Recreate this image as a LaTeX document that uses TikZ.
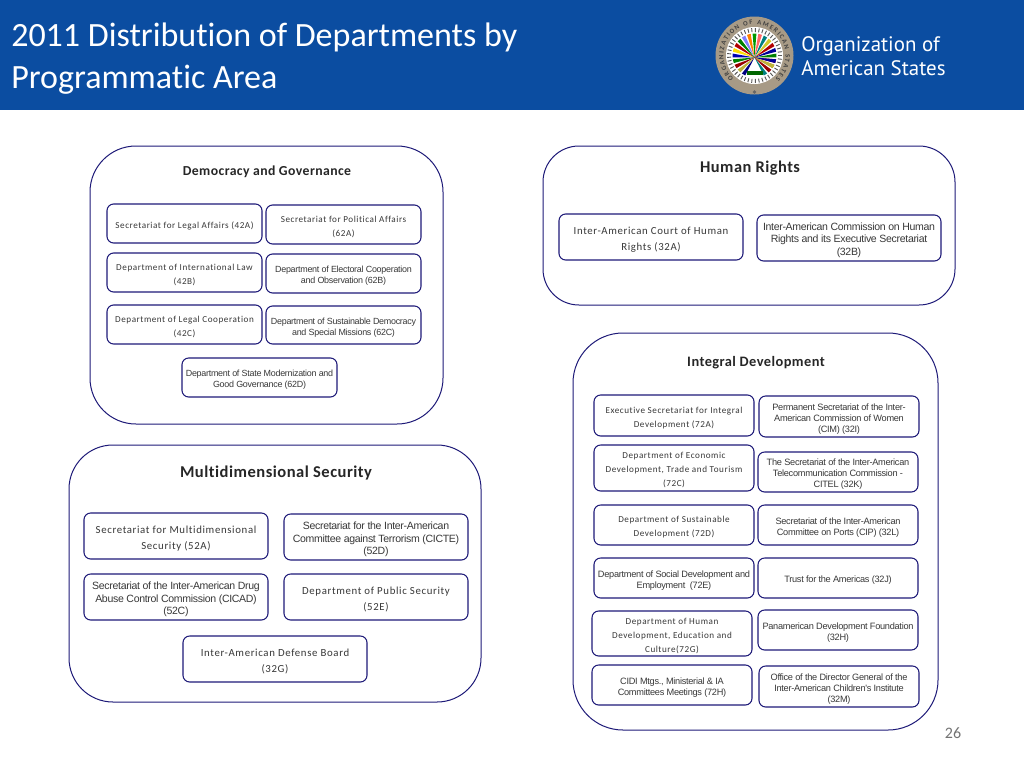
\documentclass[tikz,border=0pt]{standalone}
\usepackage{fontspec}
\usetikzlibrary{decorations.text}
\setmainfont[Ligatures=CommonOff]{Carlito}
\newfontfamily\carlsp[LetterSpace=6,Ligatures=CommonOff]{Carlito}
\newfontfamily\carlhead[LetterSpace=3,Ligatures=CommonOff]{Carlito}
\newfontfamily\arialt[LetterSpace=-3]{Liberation Sans}
\newfontfamily\logofont{PT Sans}
\definecolor{headblue}{HTML}{0B4DA1}
\definecolor{navy}{HTML}{1E1A78}
\definecolor{inktext}{HTML}{383838}
\definecolor{sealtan}{HTML}{A79A86}
\newcommand{\fsmall}{\carlsp\fontsize{6.85pt}{10.5pt}\selectfont}
\newcommand{\fbig}{\carlsp\fontsize{8.1pt}{12pt}\selectfont}
\newcommand{\asmall}{\arialt\fontsize{6.7pt}{8.3pt}\selectfont}
\newcommand{\amid}{\arialt\fontsize{6.9pt}{8.3pt}\selectfont}
\newcommand{\abig}{\arialt\fontsize{7.9pt}{9.4pt}\selectfont}
\tikzset{
  box/.style={draw=navy,line width=.8pt,rounded corners=5pt,inner sep=0pt},
  boxtext/.style={inner sep=0pt,align=flush center,text=inktext},
  panel/.style={draw=navy,line width=.75pt,inner sep=0pt},
  headtext/.style={inner sep=0pt,text=black!85},
}
\newcommand{\bx}[7]{\node[box,minimum width={(#4-#2)*.75pt},minimum height={(#5-#3)*.75pt}]
  (#1) at ({(#2+#4)/2},{(#3+#5)/2}) {};
  \node[boxtext,font=#6,text width={(#4-#2)*.75pt}] (#1t) at ([yshift=-1.7pt]#1.center) {#7};}
\newcommand{\pn}[6]{\node[panel,rounded corners=#6*.75pt,minimum width={(#4-#2)*.75pt},minimum height={(#5-#3)*.75pt}]
  (#1) at ({(#2+#4)/2},{(#3+#5)/2}) {};}
\begin{document}
\begin{tikzpicture}[x=.75pt,y=-.75pt]
\useasboundingbox (0,0) rectangle (1024,768);
\fill[white] (0,0) rectangle (1024,768);
\fill[headblue] (0,0) rectangle (1024,110);
\node[anchor=west,inner sep=0pt,text=white,align=left,font=\fontsize{25.5pt}{31pt}\selectfont] (title) at (11,58.5)
  {2011 Distribution of Departments by\\Programmatic Area};
% seal
\begin{scope}[shift={(754.5,55.5)},x=.75pt,y=.75pt]
  \fill[sealtan] (0,0) circle (39);
  \fill[white] (0,0) circle (28.5);
  \foreach \a in {0,8,...,352}{
    \draw[black!65,line width=.7pt] (\a:23.5) -- (\a:27.5);
  }
  \foreach \a/\c in {180/blue!70!black,165/yellow!80!orange,150/red!70!black,135/green!50!black,120/blue!50,105/orange,90/green!60!black,75/red!60,60/teal,45/yellow!80!black,30/red!70!black,15/blue!60!black,0/green!50!black,-15/red!75!black,-30/orange!80!black,195/green!50!black,210/red!60!black,225/yellow!70!black,240/blue!50!black,300/teal,315/red!60!black,330/yellow!70!black,345/blue!60!black}{
    \fill[\c] (0,-2) -- (\a-5:22) -- (\a+5:22) -- cycle;
  }
  \fill[green!40!black] (-8,-15) rectangle (8,-19);
  \fill[black!60] (0,-36.5) circle (1.8);
  \path[decorate,decoration={text along path,text align={fit to path},
    text={|\bfseries\fontsize{5pt}{6pt}\selectfont\color{black!75}|ORGANIZATION OF AMERICAN STATES}}]
    (228:31) arc (228:-48:31);
\end{scope}
\node[anchor=west,inner sep=0pt,text=white,align=left,font=\logofont\fontsize{15.7pt}{18pt}\selectfont] (logotext) at (801,56)
  {Organization of\\American States};
% panels
\pn{pdg}{90}{146}{443}{424}{46}
\pn{phr}{543}{146}{955}{305}{36}
\pn{pms}{69}{445}{481}{702}{44}
\pn{pid}{573}{333}{938}{730}{50}
% headings
\node[headtext,font=\carlhead\bfseries\fontsize{10.3pt}{12pt}\selectfont] (hdg) at (267,172) {Democracy and Governance};
\node[headtext,font=\carlhead\bfseries\fontsize{12.3pt}{13pt}\selectfont] (hhr) at (750,168) {Human Rights};
\node[headtext,font=\carlhead\bfseries\fontsize{12.4pt}{15pt}\selectfont] (hms) at (276,473) {Multidimensional Security};
\node[headtext,font=\carlhead\bfseries\fontsize{10.8pt}{12pt}\selectfont] (hid) at (756,363) {Integral Development};
% Democracy and Governance
\bx{b42A}{107}{204}{262}{243}{\fsmall}{Secretariat for Legal Affairs (42A)}
\bx{b62A}{266}{205}{421}{244}{\fsmall}{Secretariat for Political Affairs\\(62A)}
\bx{b42B}{107}{253}{262}{292}{\fsmall}{Department of International Law\\(42B)}
\bx{b62B}{266}{254}{421}{293}{\asmall}{Department of Electoral Cooperation\\and Observation (62B)}
\bx{b42C}{107}{305}{262}{344}{\fsmall}{Department of Legal Cooperation\\(42C)}
\bx{b62C}{266}{306}{421}{344}{\asmall}{Department of Sustainable Democracy\\and Special Missions (62C)}
\bx{b62D}{182}{358}{337}{397}{\asmall}{Department of State Modernization and\\Good Governance (62D)}
% Multidimensional Security
\bx{b52A}{84}{513}{268}{559}{\fbig}{Secretariat for Multidimensional\\Security (52A)}
\bx{b52D}{284}{514}{468}{560}{\abig}{Secretariat for the Inter-American\\Committee against Terrorism (CICTE)\\(52D)}
\bx{b52C}{84}{574}{268}{620}{\abig}{Secretariat of the Inter-American Drug\\Abuse Control Commission (CICAD)\\(52C)}
\bx{b52E}{284}{574}{468}{620}{\fbig}{Department of Public Security\\(52E)}
\bx{b32G}{183}{636}{367}{682}{\fbig}{Inter-American Defense Board\\(32G)}
% Human Rights
\bx{b32A}{559}{214}{743}{260}{\fbig}{Inter-American Court of Human\\Rights (32A)}
\bx{b32B}{757}{215}{941}{261}{\abig}{Inter-American Commission on Human\\Rights and its Executive Secretariat\\(32B)}
% Integral Development
\bx{b72A}{594}{395}{754}{436}{\fsmall}{Executive Secretariat for Integral\\Development (72A)}
\bx{b32I}{759}{396}{919}{437}{\amid}{Permanent Secretariat of the Inter-\\American Commission of Women\\(CIM) (32I)}
\bx{b72C}{594}{445}{754}{491}{\fsmall}{Department of Economic\\Development, Trade and Tourism\\(72C)}
\bx{b32K}{758}{452}{918}{492}{\amid}{The Secretariat of the Inter-American\\Telecommunication Commission -\\CITEL (32K)}
\bx{b72D}{594}{505}{754}{545}{\fsmall}{Department of Sustainable\\Development (72D)}
\bx{b32L}{758}{505}{918}{545}{\amid}{Secretariat of the Inter-American\\Committee on Ports (CIP) (32L)}
\bx{b72E}{594}{558}{754}{598}{\amid}{Department of Social Development and\\Employment~ (72E)}
\bx{b32J}{758}{558}{918}{598}{\amid}{Trust for the Americas (32J)}
\bx{b72G}{592}{611}{752}{656}{\fsmall}{Department of Human\\Development, Education and\\Culture(72G)}
\bx{b32H}{758}{610}{918}{650}{\amid}{Panamerican Development Foundation\\(32H)}
\bx{b72H}{592}{665}{752}{705}{\amid}{CIDI Mtgs., Ministerial \& IA\\Committees Meetings (72H)}
\bx{b32M}{759}{666}{919}{707}{\amid}{Office of the Director General of the\\Inter-American Children's Institute\\(32M)}
\node[inner sep=0pt,text=black!55,font=\fontsize{12pt}{14pt}\selectfont] (pageno) at (953,733) {26};
\end{tikzpicture}
\end{document}
